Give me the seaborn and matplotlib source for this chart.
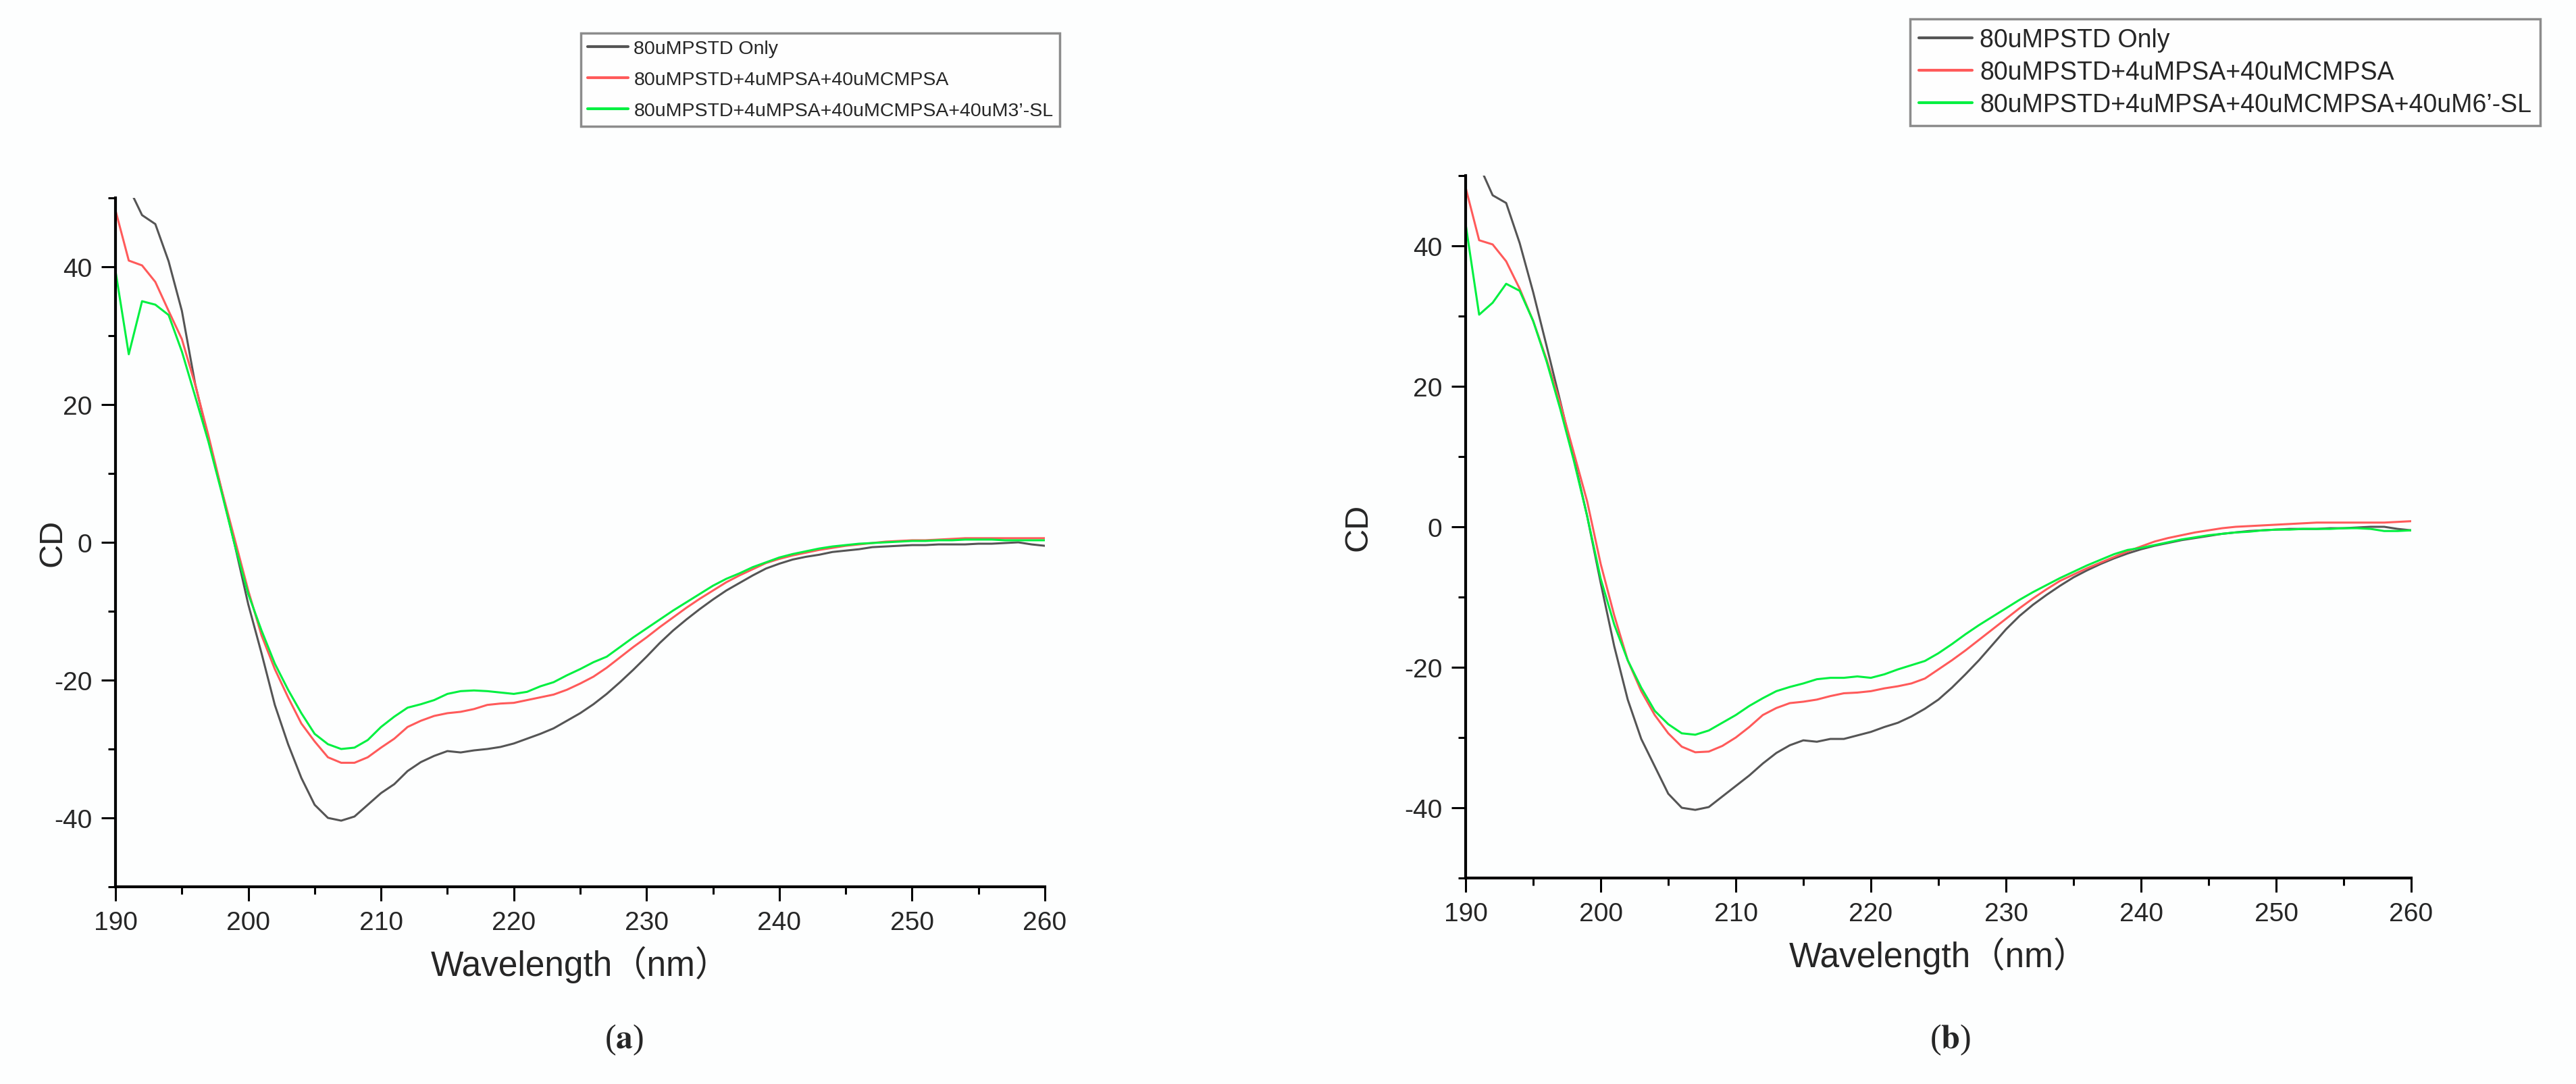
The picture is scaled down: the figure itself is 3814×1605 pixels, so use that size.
import numpy as np
import pandas as pd
import matplotlib
matplotlib.use("Agg")
import matplotlib.pyplot as plt
from matplotlib.ticker import MultipleLocator
import seaborn as sns

sns.set_theme(style="ticks")
plt.rcParams["font.family"] = ["Liberation Sans", "Noto Sans CJK SC"]
plt.rcParams["mathtext.fontset"] = "stix"
plt.rcParams["axes.unicode_minus"] = False

# CD spectra, 1 nm steps
wavelength = np.arange(190, 261)

only_a = [57.0, 51.5, 47.5, 46.2, 40.8, 33.6, 23.0, 15.0, 7.5, -0.5,
          -9.0, -16.1, -23.6, -29.3, -34.2, -38.1, -40.0, -40.4, -39.8, -38.1,
          -36.4, -35.1, -33.2, -31.9, -31.0, -30.3, -30.5, -30.2, -30.0, -29.7,
          -29.2, -28.5, -27.8, -27.0, -25.9, -24.8, -23.5, -22.0, -20.3, -18.5,
          -16.6, -14.6, -12.8, -11.2, -9.7, -8.3, -7.0, -5.9, -4.8, -3.8,
          -3.1, -2.5, -2.1, -1.8, -1.4, -1.2, -1.0, -0.7, -0.6, -0.5,
          -0.4, -0.4, -0.3, -0.3, -0.3, -0.2, -0.2, -0.1, 0.0, -0.3,
          -0.5]
csa_a = [48.2, 40.9, 40.2, 37.8, 33.6, 29.5, 22.9, 15.5, 7.6, 0.3,
         -7.0, -13.5, -18.4, -22.5, -26.3, -28.9, -31.2, -32.0, -32.0, -31.2,
         -29.8, -28.5, -26.8, -25.9, -25.2, -24.8, -24.6, -24.2, -23.6, -23.4,
         -23.3, -22.9, -22.5, -22.1, -21.4, -20.5, -19.5, -18.2, -16.7, -15.2,
         -13.8, -12.3, -10.9, -9.5, -8.2, -7.0, -5.8, -4.8, -3.9, -3.0,
         -2.4, -1.9, -1.5, -1.1, -0.8, -0.5, -0.3, -0.1, 0.1, 0.2,
         0.3, 0.3, 0.4, 0.5, 0.6, 0.6, 0.6, 0.6, 0.6, 0.6,
         0.6]
sl3_a = [39.4, 27.3, 35.0, 34.5, 33.0, 27.7, 21.2, 14.6, 7.2, -0.5,
         -7.5, -12.8, -17.6, -21.4, -24.8, -27.8, -29.3, -30.0, -29.8, -28.7,
         -26.8, -25.3, -24.0, -23.5, -22.9, -22.0, -21.6, -21.5, -21.6, -21.8,
         -22.0, -21.7, -20.9, -20.3, -19.3, -18.4, -17.4, -16.6, -15.2, -13.8,
         -12.5, -11.2, -9.9, -8.7, -7.5, -6.3, -5.3, -4.5, -3.6, -2.9,
         -2.2, -1.7, -1.3, -0.9, -0.6, -0.4, -0.2, -0.1, 0.0, 0.1,
         0.2, 0.2, 0.3, 0.3, 0.4, 0.4, 0.4, 0.3, 0.3, 0.3,
         0.3]

only_b = [56.0, 51.5, 47.2, 46.1, 40.4, 33.4, 25.7, 17.9, 9.9, 1.5,
          -8.0, -17.0, -24.6, -30.2, -34.1, -38.0, -40.0, -40.3, -39.9, -38.4,
          -36.9, -35.4, -33.7, -32.2, -31.1, -30.4, -30.6, -30.2, -30.2, -29.7,
          -29.2, -28.5, -27.9, -27.0, -25.9, -24.6, -22.9, -21.0, -19.0, -16.8,
          -14.6, -12.7, -11.1, -9.7, -8.4, -7.2, -6.2, -5.3, -4.5, -3.8,
          -3.2, -2.7, -2.3, -1.9, -1.6, -1.3, -1.0, -0.8, -0.6, -0.5,
          -0.4, -0.3, -0.3, -0.3, -0.2, -0.2, -0.1, 0.0, 0.0, -0.3,
          -0.5]
csa_b = [48.3, 40.8, 40.2, 37.8, 33.9, 29.3, 23.8, 17.6, 10.6, 3.6,
         -5.3, -12.6, -19.0, -23.4, -26.8, -29.4, -31.3, -32.1, -32.0, -31.2,
         -30.0, -28.5, -26.8, -25.8, -25.1, -24.9, -24.6, -24.1, -23.7, -23.6,
         -23.4, -23.0, -22.7, -22.3, -21.6, -20.3, -19.0, -17.6, -16.1, -14.6,
         -13.1, -11.6, -10.2, -8.9, -7.7, -6.8, -5.9, -5.1, -4.3, -3.5,
         -2.8, -2.1, -1.6, -1.2, -0.8, -0.5, -0.2, 0.0, 0.1, 0.2,
         0.3, 0.4, 0.5, 0.6, 0.6, 0.6, 0.6, 0.6, 0.6, 0.7,
         0.8]
sl6_b = [43.1, 30.2, 31.9, 34.6, 33.6, 29.3, 23.5, 16.8, 9.5, 1.5,
         -7.4, -13.9, -19.0, -22.9, -26.2, -28.1, -29.4, -29.6, -29.0, -27.9,
         -26.8, -25.5, -24.4, -23.4, -22.8, -22.3, -21.7, -21.5, -21.5, -21.3,
         -21.5, -21.0, -20.3, -19.7, -19.1, -18.0, -16.7, -15.3, -14.0, -12.8,
         -11.6, -10.4, -9.3, -8.3, -7.3, -6.4, -5.5, -4.7, -3.9, -3.3,
         -3.0, -2.6, -2.2, -1.8, -1.5, -1.2, -1.0, -0.8, -0.7, -0.5,
         -0.4, -0.4, -0.3, -0.3, -0.3, -0.2, -0.2, -0.3, -0.6, -0.6,
         -0.5]

labels_a = ["80uMPSTD Only", "80uMPSTD+4uMPSA+40uMCMPSA",
            "80uMPSTD+4uMPSA+40uMCMPSA+40uM3\u2019-SL"]
labels_b = ["80uMPSTD Only", "80uMPSTD+4uMPSA+40uMCMPSA",
            "80uMPSTD+4uMPSA+40uMCMPSA+40uM6\u2019-SL"]
colors = ["#555555", "#ff5a5a", "#00f040"]

W, H = 3814, 1606
fig = plt.figure(figsize=(W / 100, H / 100), dpi=100)
fig.patch.set_facecolor("#fdfefe")


def panel(rect, series, labels, leg_xy, leg_size, leg_spacing, cd_x):
    ax = fig.add_axes(rect)
    ax.set_facecolor("#fdfefe")
    for vals, lab, col in zip(series, labels, colors):
        df = pd.DataFrame({"wl": wavelength, "cd": vals})
        sns.lineplot(data=df, x="wl", y="cd", color=col, lw=2.2, label=lab, ax=ax)
    ax.set_xlim(190, 260)
    ax.set_ylim(-50, 50)
    ax.xaxis.set_major_locator(MultipleLocator(10))
    ax.xaxis.set_minor_locator(MultipleLocator(5))
    ax.yaxis.set_major_locator(MultipleLocator(20))
    ax.yaxis.set_minor_locator(MultipleLocator(10))
    ax.tick_params(which="major", length=15, width=2.2, labelsize=28, pad=10, color="black")
    ax.tick_params(which="minor", length=8, width=2.2, color="black")
    sns.despine(ax=ax)
    for s in ("left", "bottom"):
        ax.spines[s].set_linewidth(3)
        ax.spines[s].set_color("black")
    ax.set_xlabel("Wavelength\uff08nm\uff09", fontsize=37, labelpad=12)
    ax.set_ylabel("CD", fontsize=35, va="center")
    ax.yaxis.set_label_coords(cd_x, 0.5)
    leg = ax.legend(loc="upper left", bbox_to_anchor=leg_xy, bbox_transform=fig.transFigure,
                    fontsize=leg_size, frameon=True, fancybox=False, handlelength=2.1,
                    handletextpad=0.3, labelspacing=leg_spacing, borderpad=0.35,
                    borderaxespad=0)
    leg.get_frame().set_edgecolor("#707070")
    leg.get_frame().set_linewidth(2.5)
    leg.get_frame().set_facecolor("white")
    for line in leg.get_lines():
        line.set_linewidth(3)
    return ax


panel([171 / W, 1 - 1314 / H, (1547 - 171) / W, (1314 - 294) / H],
      [only_a, csa_a, sl3_a], labels_a, (860 / W, 1 - 50 / H), 20.5, 0.7,
      (78 - 171) / (1547 - 171))
panel([2170 / W, 1 - 1301 / H, (3570 - 2170) / W, (1301 - 261) / H],
      [only_b, csa_b, sl6_b], labels_b, (2828 / W, 1 - 29 / H), 27, 0.32,
      (2011 - 2170) / (3570 - 2170))

fig.text(924 / W, 1 - 1540 / H, r"($\mathbf{a}$)", ha="center", va="center",
         fontsize=36, family="Liberation Serif")
fig.text(2887 / W, 1 - 1540 / H, r"($\mathbf{b}$)", ha="center", va="center",
         fontsize=36, family="Liberation Serif")

fig.savefig("out.png", dpi=100)
